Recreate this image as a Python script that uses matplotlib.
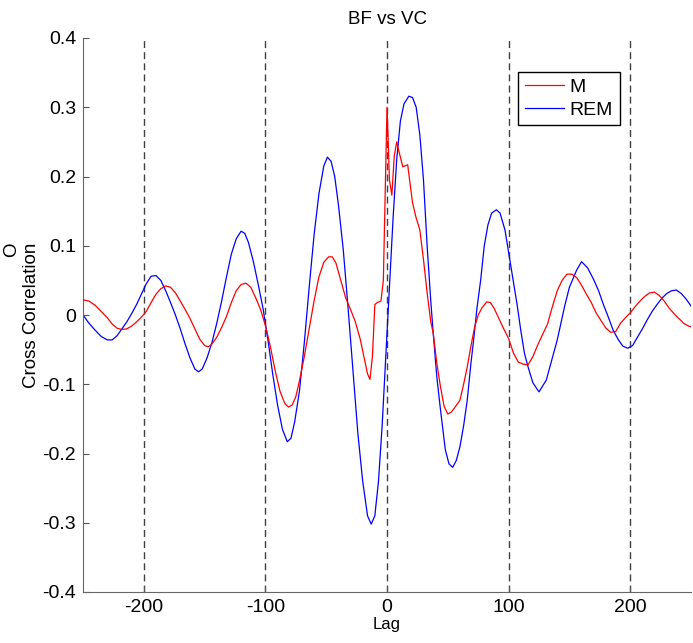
import matplotlib
matplotlib.use("Agg")
import matplotlib.pyplot as plt

plt.rcParams['font.family'] = ['Liberation Sans', 'DejaVu Sans']
plt.rcParams['axes.unicode_minus'] = False

# M series (red), lag vs cross correlation
lag_m = [-250, -245, -240, -235, -230, -226, -222, -218, -214, -210, -206, -202,
         -198, -194, -190, -186, -182, -178, -174, -170, -166, -162, -158, -154,
         -150, -147, -144, -140, -136, -132, -128, -124, -120, -116, -112, -108,
         -104, -100, -96, -92, -88, -84, -81, -78, -75, -72, -68, -64, -60, -56,
         -52, -48, -45, -42, -38, -34, -30, -26, -22, -19, -16, -14, -12, -10,
         -8, -5, -3, -1, 0, 1, 2, 4, 6, 8, 10, 13, 17, 21, 24, 27, 30, 33, 36,
         38, 41, 44, 47, 50, 53, 56, 60, 63, 66, 69, 72, 75, 78, 82, 85, 88, 92,
         96, 100, 104, 108, 112, 116, 120, 124, 128, 132, 136, 140, 144, 148,
         152, 156, 160, 164, 168, 172, 176, 180, 184, 188, 192, 196, 200, 204,
         208, 212, 216, 220, 224, 228, 232, 236, 240, 244, 248, 250]
cc_m = [0.022, 0.020, 0.014, 0.005, -0.004, -0.013, -0.019, -0.021, -0.020,
        -0.016, -0.010, -0.003, 0.005, 0.018, 0.030, 0.038, 0.042, 0.040,
        0.032, 0.020, 0.008, -0.005, -0.020, -0.035, -0.044, -0.046, -0.042,
        -0.032, -0.018, -0.002, 0.018, 0.035, 0.044, 0.046, 0.040, 0.025,
        0.008, -0.015, -0.045, -0.080, -0.110, -0.128, -0.133, -0.130, -0.118,
        -0.095, -0.060, -0.020, 0.020, 0.055, 0.076, 0.084, 0.084, 0.075,
        0.050, 0.025, 0.008, -0.010, -0.035, -0.060, -0.085, -0.093, -0.060,
        0.015, 0.018, 0.020, 0.050, 0.220, 0.300, 0.250, 0.195, 0.173, 0.230,
        0.250, 0.235, 0.214, 0.217, 0.162, 0.140, 0.123, 0.080, 0.032, -0.010,
        -0.026, -0.070, -0.104, -0.132, -0.143, -0.140, -0.133, -0.123, -0.100,
        -0.075, -0.045, -0.018, 0.000, 0.010, 0.019, 0.018, 0.010, -0.005,
        -0.020, -0.034, -0.055, -0.068, -0.071, -0.072, -0.060, -0.043, -0.028,
        -0.013, 0.012, 0.035, 0.050, 0.059, 0.059, 0.054, 0.043, 0.030, 0.018,
        0.003, -0.008, -0.019, -0.025, -0.024, -0.012, -0.004, 0.003, 0.012,
        0.020, 0.027, 0.032, 0.033, 0.028, 0.020, 0.010, 0.002, -0.005, -0.012,
        -0.016, -0.017]

# REM series (blue)
lag_rem = [-250, -245, -240, -235, -230, -226, -222, -218, -214, -210, -206,
           -202, -198, -194, -190, -186, -182, -178, -174, -170, -166, -162,
           -158, -155, -152, -148, -144, -140, -136, -132, -128, -124, -120,
           -117, -114, -110, -106, -102, -98, -94, -90, -86, -82, -79, -76,
           -72, -68, -64, -60, -56, -52, -49, -46, -43, -40, -36, -32, -28,
           -24, -20, -16, -13, -10, -7, -4, -1, 2, 5, 8, 11, 14, 18, 21, 24,
           27, 30, 33, 36, 38, 41, 44, 48, 51, 54, 57, 60, 63, 66, 69, 71, 74,
           77, 80, 83, 86, 90, 93, 97, 101, 104, 107, 110, 113, 116, 120, 125,
           131, 135, 140, 146, 150, 156, 160, 165, 170, 174, 178, 182, 186,
           190, 194, 198, 202, 206, 210, 214, 218, 222, 226, 230, 234, 238,
           242, 246, 250]
cc_rem = [0.000, -0.012, -0.022, -0.031, -0.036, -0.036, -0.030, -0.020,
          -0.010, 0.002, 0.015, 0.030, 0.045, 0.056, 0.057, 0.050, 0.035,
          0.018, 0.000, -0.020, -0.042, -0.062, -0.078, -0.082, -0.078,
          -0.062, -0.040, -0.012, 0.020, 0.055, 0.088, 0.110, 0.121, 0.118,
          0.105, 0.078, 0.045, 0.010, -0.035, -0.085, -0.130, -0.165, -0.183,
          -0.178, -0.155, -0.110, -0.040, 0.040, 0.115, 0.175, 0.215, 0.228,
          0.222, 0.200, 0.160, 0.095, 0.010, -0.080, -0.170, -0.240, -0.290,
          -0.302, -0.290, -0.240, -0.160, -0.060, 0.040, 0.140, 0.225, 0.280,
          0.305, 0.316, 0.314, 0.300, 0.260, 0.195, 0.100, 0.020, -0.026,
          -0.090, -0.137, -0.195, -0.215, -0.220, -0.210, -0.190, -0.160,
          -0.123, -0.070, -0.040, 0.010, 0.050, 0.100, 0.130, 0.147, 0.152,
          0.147, 0.123, 0.080, 0.048, 0.015, -0.022, -0.055, -0.075, -0.098,
          -0.111, -0.094, -0.068, -0.036, 0.012, 0.040, 0.065, 0.077, 0.068,
          0.051, 0.035, 0.015, -0.003, -0.022, -0.035, -0.045, -0.048, -0.044,
          -0.032, -0.020, -0.007, 0.005, 0.015, 0.024, 0.031, 0.035, 0.036,
          0.031, 0.023, 0.013]

vlines = [-200, -100, 0, 100, 200]
xticks = [-200, -100, 0, 100, 200]
yticks = [-0.4, -0.3, -0.2, -0.1, 0, 0.1, 0.2, 0.3, 0.4]
yticklabels = ['-0.4', '-0.3', '-0.2', '-0.1', '0', '0.1', '0.2', '0.3', '0.4']

fig = plt.figure(figsize=(6.93, 6.43), dpi=100)
ax = fig.add_axes([83 / 693, 51 / 643, 608 / 693, 554 / 643])

for v in vlines:
    ax.axvline(v, color='#404040', linestyle=(0, (5, 3)), linewidth=1.0, zorder=1)

ax.plot(lag_m, cc_m, color='#ff0000', linewidth=0.9, label='M', zorder=3)
ax.plot(lag_rem, cc_rem, color='#0000ff', linewidth=0.9, label='REM', zorder=2)

ax.set_xlim(-250, 250)
ax.set_ylim(-0.4, 0.4)
ax.set_xticks(xticks)
ax.set_yticks(yticks)
ax.set_yticklabels(yticklabels)
ax.tick_params(direction='in', length=4, width=0.8, labelsize=14, colors='#555555',
               labelcolor='black', pad=5)

ax.spines['top'].set_visible(False)
ax.spines['right'].set_visible(False)
ax.spines['left'].set_color('#666666')
ax.spines['bottom'].set_color('#666666')

ax.set_title('BF vs VC', fontsize=13.5, pad=10)
ax.set_xlabel('Lag', fontsize=12, labelpad=1)
ax.set_ylabel('O\nCross Correlation', fontsize=13.5, multialignment='right', labelpad=2)

leg = ax.legend(loc='upper right', bbox_to_anchor=(0.883, 0.939), borderaxespad=0,
                fontsize=14, handlelength=2.0, handletextpad=0.3, borderpad=0.35,
                labelspacing=0.25, fancybox=False, framealpha=1)
leg.get_frame().set_edgecolor('black')
leg.get_frame().set_linewidth(1.0)

fig.savefig('out.png', dpi=100)
